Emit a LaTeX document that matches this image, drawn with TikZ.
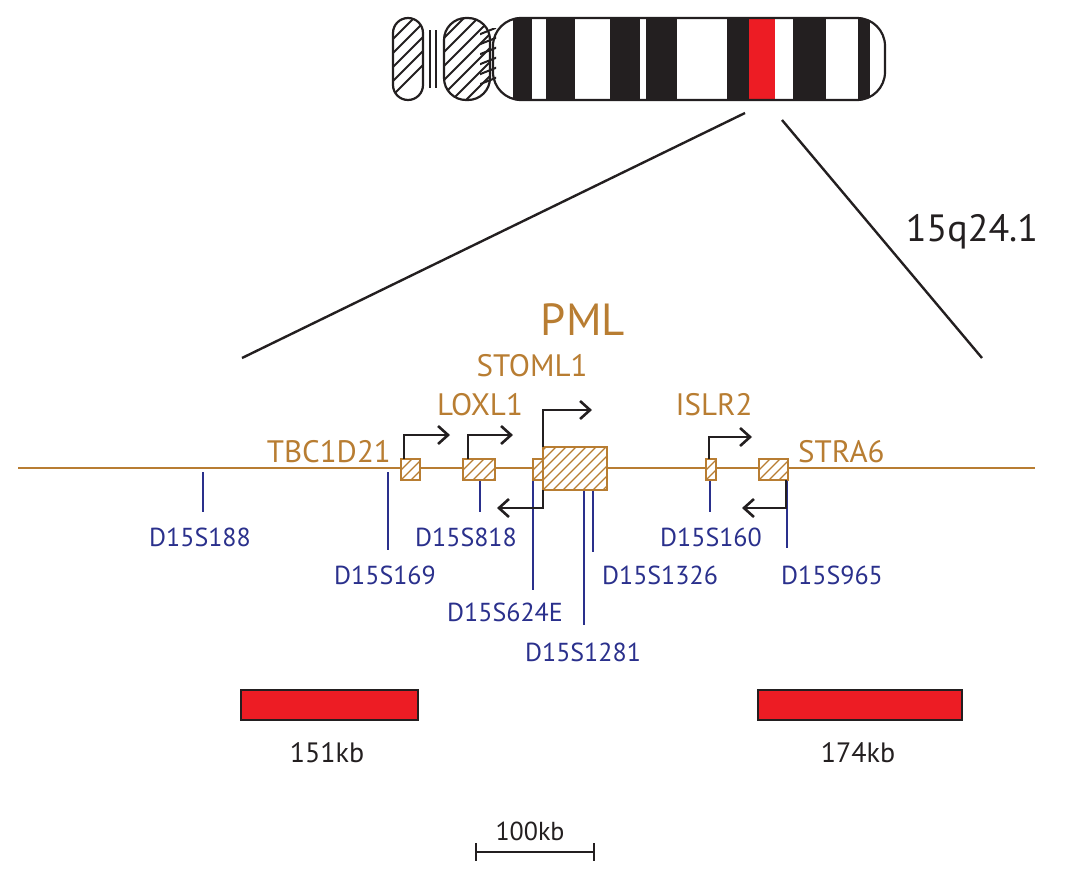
\documentclass[tikz,border=0pt]{standalone}
\usepackage{fontspec}
\setmainfont{PT Sans}
\usetikzlibrary{arrows.meta}
\definecolor{brn}{RGB}{184,125,50}
\definecolor{nv}{RGB}{42,48,140}
\definecolor{rd}{RGB}{237,28,36}
\definecolor{blk}{RGB}{35,31,32}
\tikzset{
 gl/.style={text=brn,font=\fontsize{31}{31}\selectfont,inner sep=0},
 ml/.style={text=nv,font=\fontsize{26}{26}\selectfont,inner sep=0},
 mk/.style={nv,line width=2.6pt},
 tss/.style={blk,line width=2.6pt,-{Straight Barb[length=10pt,width=18pt]}},
 gb/.style={brn,line width=2.6pt},
 hat/.style={brn,line width=1.2pt},
}
\newcommand{\hatchbox}[4]{%
 \begin{scope}\clip (#1,#2) rectangle (#3,#4);
 \foreach \k in {-100,-90,...,100}{\draw[hat] (#1+\k,#4) -- ++(60,-60);}
 \end{scope}
 \draw[gb] (#1,#2) rectangle (#3,#4);}
\begin{document}
\begin{tikzpicture}[x=1pt,y=-1pt]
\useasboundingbox (0,0) rectangle (1068,884);
% chromosome
\begin{scope}
\clip[rounded corners=28] (493,18) rectangle (885,100);
\fill[white] (490,18) rectangle (890,100);
\foreach \a/\b in {513/532,546/575,610/640,646/677,727/749,793/826,858/870}{\fill[blk] (\a,18) rectangle (\b,100);}
\fill[rd] (749,18) rectangle (775,100);
\end{scope}
\draw[blk,line width=2.2pt,rounded corners=28] (493,18) rectangle (885,100);
\begin{scope}\clip[rounded corners=15] (393,18) rectangle (423,100);
\foreach \k in {0,14,...,110}{\draw[blk,line width=2pt] (380,\k+10) -- ++(50,-50);}\end{scope}
\draw[blk,line width=2.2pt,rounded corners=15] (393,18) rectangle (423,100);
\draw[blk,line width=2.2pt] (430,30) -- (430,88) (436,30) -- (436,88);
\begin{scope}\clip[rounded corners=22] (444,18) rectangle (490,100);
\foreach \k in {0,14,...,130}{\draw[blk,line width=2pt] (430,\k+10) -- ++(60,-60);}\end{scope}
\draw[blk,line width=2.2pt,rounded corners=22] (444,18) rectangle (490,100);
\begin{scope}\clip (480,28) rectangle (496,90);
\foreach \k in {35,45,...,85}{\draw[blk,line width=2pt] (478,\k) -- ++(20,-8);}\end{scope}
% zoom lines
\coordinate (c1) at (745,113); \coordinate (c2) at (782,120);
\coordinate (l1) at (242,358); \coordinate (l2) at (982,358);
\draw[blk,line width=2.4pt] (c1) -- (l1) (c2) -- (l2);
\node[font=\fontsize{38}{38}\selectfont,text=blk,inner sep=0] (band) at (972,232) {15q24.1};
% gene line
\coordinate (g0) at (18,468); \coordinate (g1) at (1035,468);
\draw[gb] (g0) -- (g1);
% markers
\foreach \x/\a/\b in {203/472/512,388/472/550,480/480/512,533/480/590,584/490/625,593/490/552,710/480/512,787/480/548}{\draw[mk] (\x,\a) -- (\x,\b);}
\node[ml] (m1) at (200,537) {D15S188};
\node[ml] (m2) at (385,575) {D15S169};
\node[ml] (m3) at (466,537) {D15S818};
\node[ml] (m4) at (505,612) {D15S624E};
\node[ml] (m5) at (583,652) {D15S1281};
\node[ml] (m6) at (660,575) {D15S1326};
\node[ml] (m7) at (711,537) {D15S160};
\node[ml] (m8) at (832,575) {D15S965};
% gene boxes
\fill[white] (401,459) rectangle (420,480) (463,459) rectangle (495,480) (533,459) rectangle (543,480) (543,447) rectangle (607,490) (706,459) rectangle (716,480) (759,459) rectangle (788,480);
\hatchbox{401}{459}{420}{480}
\hatchbox{463}{459}{495}{480}
\hatchbox{533}{459}{543}{480}
\hatchbox{543}{447}{607}{490}
\hatchbox{706}{459}{716}{480}
\hatchbox{759}{459}{788}{480}
% TSS arrows
\draw[tss] (404,459) -- (404,435) -- (450,435);
\draw[tss] (468,459) -- (468,435) -- (513,435);
\draw[tss] (543,447) -- (543,410) -- (592,410);
\draw[tss] (709,459) -- (709,437) -- (752,437);
\draw[tss] (786,480) -- (786,508) -- (742,508);
\draw[tss] (543,490) -- (543,508) -- (497,508);
% gene labels
\node[gl,font=\fontsize{45}{45}\selectfont] (pml) at (583,320) {PML};
\node[gl] (st) at (532,366) {STOML1};
\node[gl] (lx) at (480,405) {LOXL1};
\node[gl] (is) at (714,405) {ISLR2};
\node[gl,anchor=east] (tb) at (391,452) {TBC1D21};
\node[gl,anchor=west] (sa) at (798,452) {STRA6};
% bars
\fill[rd,draw=blk,line width=1.2pt] (241,690) rectangle (418,720);
\fill[rd,draw=blk,line width=1.2pt] (758,690) rectangle (962,720);
\node[text=blk,font=\fontsize{28}{28}\selectfont,inner sep=0] (k1) at (327,753) {151kb};
\node[text=blk,font=\fontsize{28}{28}\selectfont,inner sep=0] (k2) at (858,753) {174kb};
% scale
\coordinate (s0) at (476,852); \coordinate (s1) at (594,852);
\draw[blk,line width=2.4pt] (s0) -- (s1) (476,843) -- (476,861) (594,843) -- (594,861);
\node[text=blk,font=\fontsize{26}{26}\selectfont,inner sep=0] (sc) at (530,831) {100kb};
\end{tikzpicture}
\end{document}
